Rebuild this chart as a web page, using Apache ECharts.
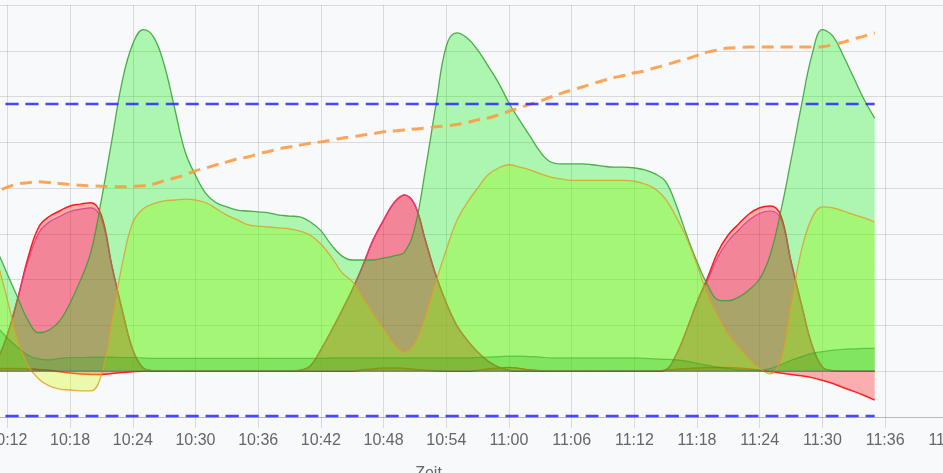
<!DOCTYPE html>
<html>
<head>
<meta charset="utf-8">
<script src="https://cdn.jsdelivr.net/npm/echarts@6/dist/echarts.min.js"></script>
<style>
  html, body { margin: 0; padding: 0; background: #f8f9fb; }
  #chart { width: 943px; height: 473px; }
</style>
</head>
<body>
<div id="chart"></div>
<script>
// time in minutes since midnight, one sample per minute (10:08 .. 11:35)
const times = [
  608, 609, 610, 611, 612, 613, 614, 615, 616, 617, 618, 619, 620, 621, 622, 623, 624, 625, 626, 627,
  628, 629, 630, 631, 632, 633, 634, 635, 636, 637, 638, 639, 640, 641, 642, 643, 644, 645, 646, 647,
  648, 649, 650, 651, 652, 653, 654, 655, 656, 657, 658, 659, 660, 661, 662, 663, 664, 665, 666, 667,
  668, 669, 670, 671, 672, 673, 674, 675, 676, 677, 678, 679, 680, 681, 682, 683, 684, 685, 686, 687,
  688, 689, 690, 691, 692, 693, 694, 695
]

// light green area
const lightGreen = [
  3.30, 3.15, 2.95, 2.62, 2.12, 1.60, 1.10, 0.84, 0.90, 1.10, 1.49, 1.99, 2.61, 3.75, 5.05, 6.35, 7.15, 7.46, 7.30, 6.70,
  5.75, 4.80, 4.28, 3.88, 3.68, 3.59, 3.52, 3.50, 3.48, 3.46, 3.41, 3.39, 3.37, 3.26, 3.07, 2.76, 2.52, 2.43, 2.43, 2.43,
  2.47, 2.52, 2.60, 3.15, 4.40, 5.80, 7.10, 7.39, 7.28, 7.02, 6.67, 6.30, 5.86, 5.49, 5.14, 4.79, 4.57, 4.53, 4.53, 4.53,
  4.51, 4.48, 4.46, 4.46, 4.44, 4.40, 4.31, 4.14, 3.63, 2.98, 2.39, 1.89, 1.56, 1.54, 1.62, 1.78, 2.02, 2.54, 3.48, 4.62,
  5.82, 6.91, 7.46, 7.32, 6.89, 6.41, 5.93, 5.53
]

// yellow-green area with orange border
const yellowGreen = [
  3.45, 3.30, 3.00, 2.40, 1.56, 0.68, 0.12, -0.17, -0.32, -0.39, -0.41, -0.43, -0.43, -0.08, 1.10, 2.35, 3.25, 3.55, 3.66, 3.72,
  3.74, 3.76, 3.74, 3.68, 3.55, 3.41, 3.31, 3.20, 3.17, 3.15, 3.13, 3.11, 3.06, 2.97, 2.78, 2.50, 2.16, 1.96, 1.62, 1.26,
  0.93, 0.60, 0.42, 0.62, 1.20, 1.95, 2.65, 3.28, 3.68, 4.00, 4.29, 4.44, 4.51, 4.46, 4.40, 4.31, 4.24, 4.20, 4.17, 4.17,
  4.17, 4.17, 4.17, 4.17, 4.15, 4.09, 3.98, 3.76, 3.37, 2.91, 2.32, 1.67, 1.21, 0.81, 0.53, 0.27, 0.07, -0.06, 0.25, 1.45,
  2.65, 3.35, 3.59, 3.57, 3.50, 3.42, 3.35, 3.26
]

// red peaks
const redPeaks = [
  0, 0, 0.03, 0.25, 0.80, 1.60, 2.50, 3.15, 3.38, 3.50, 3.61, 3.65, 3.68, 3.40, 2.30, 1.32, 0.47, 0.07, 0.01, 0,
  0, 0, 0, 0, 0, 0, 0, 0, 0, 0, 0, 0, 0.02, 0.12, 0.47, 0.88, 1.32, 1.78, 2.30, 2.87,
  3.30, 3.68, 3.85, 3.63, 2.86, 2.10, 1.49, 1.00, 0.68, 0.42, 0.22, 0.09, 0.02, 0, 0, 0, 0, 0, 0, 0,
  0, 0, 0, 0, 0, 0, 0, 0.03, 0.36, 0.90, 1.51, 2.04, 2.61, 2.98, 3.22, 3.44, 3.57, 3.61, 3.41, 2.39,
  1.45, 0.57, 0.09, 0.01, 0, 0, 0, 0
]

// pink peaks, slightly under the red ones
const pinkPeaks = [
  0, 0, 0.03, 0.25, 0.80, 1.60, 2.42, 3.02, 3.26, 3.38, 3.49, 3.54, 3.57, 3.32, 2.30, 1.32, 0.47, 0.07, 0.01, 0,
  0, 0, 0, 0, 0, 0, 0, 0, 0, 0, 0, 0, 0.02, 0.12, 0.47, 0.88, 1.32, 1.78, 2.30, 2.87,
  3.30, 3.68, 3.85, 3.63, 2.86, 2.10, 1.49, 1.00, 0.68, 0.42, 0.22, 0.09, 0.02, 0, 0, 0, 0, 0, 0, 0,
  0, 0, 0, 0, 0, 0, 0, 0.03, 0.36, 0.90, 1.51, 1.98, 2.50, 2.85, 3.09, 3.31, 3.45, 3.50, 3.34, 2.39,
  1.45, 0.57, 0.09, 0.01, 0, 0, 0, 0
]

// red line close to zero, negative at the end
const redBase = [
  0.06, 0.06, 0.06, 0.06, 0.06, 0.06, 0.05, 0.04, 0.02, -0.01, -0.04, -0.06, -0.07, -0.07, -0.05, -0.03, -0.01, 0, 0, 0,
  0, 0, 0, 0, 0, 0, 0, 0, 0, 0, 0, 0, 0, 0, 0, 0, 0, 0, 0.03, 0.05,
  0.07, 0.07, 0.06, 0.04, 0.02, 0.01, 0, 0, 0, 0.02, 0.05, 0.07, 0.08, 0.06, 0.03, 0.01, 0, 0, 0, 0,
  0, 0, 0, 0, 0, 0, 0, 0.02, 0.04, 0.06, 0.07, 0.08, 0.08, 0.08, 0.07, 0.05, 0.02, -0.01, -0.04, -0.07,
  -0.10, -0.14, -0.20, -0.27, -0.36, -0.44, -0.53, -0.63
]

// dark green band near the bottom
const darkGreen = [
  1.00, 1.00, 1.00, 0.95, 0.72, 0.52, 0.35, 0.27, 0.25, 0.28, 0.30, 0.30, 0.31, 0.31, 0.31, 0.30, 0.30, 0.29, 0.28, 0.28,
  0.28, 0.28, 0.28, 0.28, 0.28, 0.28, 0.28, 0.28, 0.28, 0.28, 0.28, 0.28, 0.28, 0.28, 0.28, 0.29, 0.29, 0.29, 0.29, 0.29,
  0.29, 0.29, 0.29, 0.29, 0.29, 0.29, 0.29, 0.29, 0.29, 0.30, 0.31, 0.32, 0.33, 0.33, 0.32, 0.31, 0.29, 0.29, 0.29, 0.29,
  0.29, 0.29, 0.29, 0.29, 0.29, 0.28, 0.27, 0.26, 0.25, 0.22, 0.17, 0.13, 0.09, 0.06, 0.03, 0.02, 0.02, 0.06, 0.14, 0.24,
  0.32, 0.39, 0.43, 0.46, 0.48, 0.49, 0.50, 0.50
]

// orange dashed line
const orangeLine = [
  3.72, 3.79, 3.86, 3.93, 4.02, 4.09, 4.12, 4.14, 4.12, 4.10, 4.08, 4.06, 4.05, 4.04, 4.03, 4.03, 4.04, 4.05, 4.09, 4.16,
  4.22, 4.29, 4.38, 4.44, 4.51, 4.57, 4.64, 4.68, 4.75, 4.80, 4.86, 4.90, 4.94, 4.98, 5.01, 5.05, 5.09, 5.12, 5.16, 5.19,
  5.23, 5.25, 5.27, 5.29, 5.31, 5.34, 5.36, 5.39, 5.43, 5.49, 5.53, 5.60, 5.68, 5.75, 5.83, 5.90, 5.99, 6.07, 6.14, 6.21,
  6.28, 6.35, 6.41, 6.46, 6.52, 6.56, 6.63, 6.69, 6.76, 6.82, 6.90, 6.97, 7.02, 7.06, 7.07, 7.08, 7.08, 7.08, 7.08, 7.08,
  7.08, 7.08, 7.09, 7.13, 7.19, 7.26, 7.32, 7.39
]

// constant levels
const upperLimit = 5.84
const lowerLimit = -0.98
const zeroLevel = 0

const axisStart = 600 // 10:00
const axisEnd = 704.6
const tickStep = 6
const FONT = '"Liberation Sans", Arial, Helvetica, sans-serif'

function pairs(vals) {
  return times.map((t, i) => [t, vals[i]])
}

function level(v) {
  return times.map((t) => [t, v])
}

function fmtTime(v) {
  const h = Math.floor(v / 60)
  const m = Math.round(v - h * 60)
  return h + ':' + (m < 10 ? '0' + m : m)
}

// each series gets its own z so that later fills cover earlier lines (like the original)
function area(name, vals, line, fill, width, z) {
  return {
    name,
    type: 'line',
    z,
    data: pairs(vals),
    smooth: 0.4,
    symbol: 'none',
    silent: true,
    lineStyle: { color: line, width },
    itemStyle: { color: line },
    areaStyle: { color: fill, opacity: 1, origin: 'auto' }
  }
}

function dashed(name, data, color, width, dash, z) {
  return {
    name,
    type: 'line',
    z,
    data,
    smooth: 0.4,
    symbol: 'none',
    silent: true,
    lineStyle: { color, width, type: dash },
    itemStyle: { color }
  }
}

const chart = echarts.init(document.getElementById('chart'))

const option = {
  animation: false,
  backgroundColor: '#f8f9fb',
  grid: {
    left: -118,
    top: 5,
    width: 1093,
    height: 412,
    containLabel: false,
    outerBoundsMode: 'none'
  },
  xAxis: {
    type: 'value',
    min: axisStart,
    max: axisEnd,
    interval: tickStep,
    name: 'Zeit',
    nameLocation: 'middle',
    nameGap: 49,
    nameTextStyle: { color: '#666', fontSize: 16, fontFamily: FONT },
    axisLine: { onZero: false, lineStyle: { color: 'rgba(0,0,0,0.15)' } },
    axisTick: { show: true, length: 11, lineStyle: { color: 'rgba(0,0,0,0.12)' } },
    axisLabel: {
      color: '#666',
      fontSize: 16,
      fontFamily: FONT,
      margin: 16,
      showMaxLabel: false,
      formatter: fmtTime
    },
    splitLine: { show: true, lineStyle: { color: 'rgba(0,0,0,0.12)' } }
  },
  yAxis: {
    type: 'value',
    min: -1,
    max: 8,
    interval: 1,
    axisLabel: { show: false },
    axisLine: { show: false },
    axisTick: { show: false },
    splitLine: { show: true, lineStyle: { color: 'rgba(0,0,0,0.12)' } }
  },
  series: [
    area('Rot', redPeaks, '#ff1a1a', 'rgba(255,0,0,0.3)', 1.5, 2),
    area('Pink', pinkPeaks, 'rgba(225,60,140,0.9)', 'rgba(230,40,100,0.3)', 1.2, 3),
    area('Rot Basis', redBase, '#ff2020', 'rgba(255,0,0,0.3)', 1.5, 4),
    area('Gelbgrün', yellowGreen, 'rgba(0,0,0,0)', 'rgba(210,250,20,0.35)', 0, 5),
    area('Dunkelgrün', darkGreen, 'rgba(40,120,40,0.45)', 'rgba(0,128,0,0.2)', 1.2, 6),
    area('Hellgrün', lightGreen, 'rgba(50,160,50,0.85)', 'rgba(0,240,0,0.3)', 1.3, 7),
    dashed('Gelbgrün Rand', pairs(yellowGreen), 'rgba(225,155,40,0.8)', 1.3, 'solid', 8),
    dashed('Null', level(zeroLevel), 'rgba(70,70,220,0.7)', 1, 'solid', 8),
    dashed('Orange', pairs(orangeLine), 'rgba(255,150,60,0.85)', 3, [12, 7], 9),
    dashed('Max', level(upperLimit), 'rgba(40,40,255,0.85)', 2.5, [13, 7], 10),
    dashed('Min', level(lowerLimit), 'rgba(40,40,255,0.85)', 2.5, [13, 7], 10)
  ]
}

chart.setOption(option)
</script>
</body>
</html>
